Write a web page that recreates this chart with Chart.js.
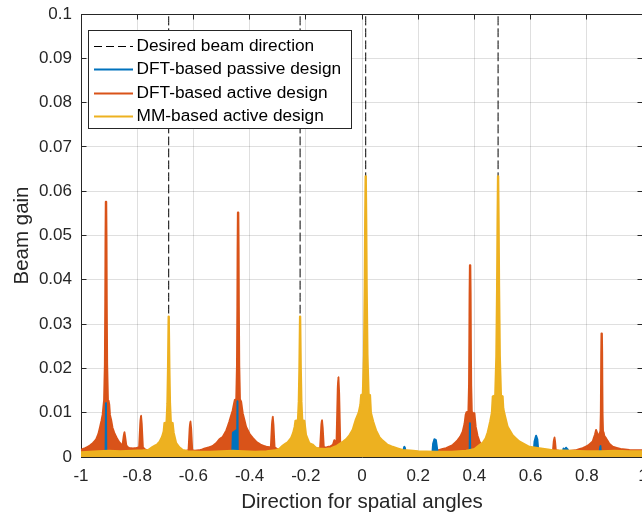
<!DOCTYPE html>
<html>
<head>
<meta charset="utf-8">
<script src="https://cdn.jsdelivr.net/npm/chart.js@4.4.3/dist/chart.umd.min.js"></script>
<style>
  html, body { margin: 0; padding: 0; background: #fff; overflow: hidden; }
  #wrap { width: 645px; height: 516px; }
</style>
</head>
<body>
<div id="wrap"><canvas id="beam" width="645" height="516"></canvas></div>
<script>
const seriesLabels = ['Desired beam direction', 'DFT-based passive design', 'DFT-based active design', 'MM-based active design'];
const xRange = [-1, 1];
const yRange = [0, 0.1];
const desiredDirections = [-0.6879, -0.2203, 0.0132, 0.4843];

// DFT-based passive design (blue)
const passiveX = [-1.000, -0.9125, -0.9112, -0.9100, -0.4620, -0.4595, -0.4480, -0.4445, -0.4432, -0.4420,
  0.1460, 0.1490, 0.1509, 0.1530, 0.1560, 0.2500, 0.2530, 0.2577, 0.2630, 0.2680, 0.2710,
  0.3830, 0.3840, 0.3852, 0.6100, 0.6140, 0.6196, 0.6240, 0.6290,
  0.7130, 0.7170, 0.7210, 0.7260, 0.7320, 0.7380, 0.8440, 0.8484, 0.8510, 1.000];
const passiveY = [0.0003, 0.0003, 0.0122, 0.0003, 0.0003, 0.0055, 0.0060, 0.0015, 0.0126, 0.0003,
  0.0003, 0.0020, 0.0023, 0.0020, 0.0003, 0.0003, 0.0030, 0.0040, 0.0038, 0.0015, 0.0003,
  0.0003, 0.0076, 0.0003, 0.0003, 0.0035, 0.0048, 0.0040, 0.0003,
  0.0003, 0.0019, 0.0016, 0.0021, 0.0017, 0.0003, 0.0003, 0.0025, 0.0003, 0.0003];

// DFT-based active design (orange)
const activeX = [-1.000, -0.985, -0.970, -0.958, -0.946, -0.938, -0.932, -0.927, -0.923, -0.9195,
  -0.9178, -0.9150, -0.9136, -0.9128, -0.9118, -0.9102, -0.9092, -0.9084, -0.9070, -0.9042, -0.902,
  -0.8995, -0.897, -0.893, -0.888, -0.881, -0.873, -0.866, -0.859, -0.854,
  -0.8521, -0.8481, -0.8456, -0.8431, -0.8391, -0.835,
  -0.828, -0.815, -0.804, -0.7930, -0.7890, -0.7865, -0.7840, -0.7800, -0.772, -0.760, -0.740, -0.720,
  -0.700, -0.680, -0.660, -0.640, -0.625, -0.6172, -0.6132, -0.6107, -0.6082, -0.6042, -0.595, -0.580,
  -0.568, -0.555, -0.543, -0.531, -0.519, -0.5075, -0.4957, -0.4826, -0.4719, -0.4650,
  -0.4601, -0.4555, -0.4525,
  -0.4474, -0.4449, -0.4435, -0.4427, -0.4417, -0.4401, -0.4391, -0.4383, -0.4369, -0.4344,
  -0.4302, -0.4270,
  -0.4246, -0.4125, -0.4010, -0.3890, -0.3740, -0.3590, -0.3410, -0.3300, -0.3243, -0.3203, -0.3178,
  -0.3153, -0.3113, -0.3030, -0.2940, -0.2700, -0.2400, -0.2100, -0.1800, -0.1600, -0.1490, -0.1450, -0.1425,
  -0.1400, -0.1360, -0.1250, -0.1120, -0.1030, -0.0982, -0.0930, -0.0905, -0.0865, -0.0840, -0.0815, -0.0775, -0.0700,
  -0.0570, -0.0300, 0.0000, 0.0500, 0.1000, 0.1500, 0.2000, 0.2500, 0.2754, 0.2993,
  0.3228, 0.3406, 0.3500, 0.3584, 0.3650, 0.3690, 0.3720,
  0.3787, 0.3809, 0.3821, 0.3829, 0.3840, 0.3854, 0.3865, 0.3873, 0.3885, 0.3907,
  0.3950, 0.4000, 0.4046, 0.4110, 0.4178, 0.4295, 0.4450, 0.4700, 0.5000,
  0.5500, 0.6000, 0.6500, 0.6780, 0.6800, 0.6825, 0.6847, 0.6869, 0.6894, 0.7000, 0.7300, 0.7600,
  0.7854, 0.8050, 0.8210, 0.8290, 0.8331, 0.8380, 0.8430, 0.8465,
  0.8484, 0.8500, 0.8508, 0.8514, 0.8523, 0.8537, 0.8546, 0.8552, 0.8560, 0.8576,
  0.8600, 0.8620, 0.8686, 0.8800, 0.8922, 0.9200, 0.9516, 1.000];
const activeY = [0.0016, 0.0020, 0.0025, 0.0031, 0.0040, 0.0052, 0.0068, 0.0082, 0.0095, 0.0118,
  0.0128, 0.0209, 0.0352, 0.0486, 0.0576, 0.0576, 0.0486, 0.0352, 0.0209, 0.0128, 0.0127,
  0.0118, 0.0095, 0.0084, 0.0066, 0.0053, 0.0043, 0.0035, 0.0030, 0.0027,
  0.0027, 0.0046, 0.0056, 0.0046, 0.0027, 0.0023,
  0.0020, 0.0019, 0.0020, 0.0022, 0.0075, 0.0093, 0.0075, 0.0022, 0.0017, 0.0014, 0.0012, 0.0011,
  0.0012, 0.0012, 0.0012, 0.0013, 0.0014, 0.0015, 0.0064, 0.0080, 0.0064, 0.0015, 0.0014, 0.0015,
  0.0017, 0.0020, 0.0022, 0.0025, 0.0031, 0.0040, 0.0045, 0.0060, 0.0080, 0.0095,
  0.0105, 0.0120, 0.0129,
  0.0130, 0.0206, 0.0341, 0.0468, 0.0552, 0.0552, 0.0468, 0.0341, 0.0206, 0.0130,
  0.0125, 0.0110,
  0.0099, 0.0068, 0.0053, 0.0043, 0.0033, 0.0027, 0.0023, 0.0022, 0.0022, 0.0073, 0.0091,
  0.0073, 0.0022, 0.0018, 0.0016, 0.0014, 0.0014, 0.0015, 0.0016, 0.0018, 0.0020, 0.0066, 0.0083,
  0.0066, 0.0021, 0.0022, 0.0024, 0.0028, 0.0038, 0.0032, 0.0033, 0.0144, 0.0180, 0.0144, 0.0030, 0.0022,
  0.0020, 0.0017, 0.0016, 0.0014, 0.0012, 0.0010, 0.0009, 0.0012, 0.0016, 0.0020,
  0.0027, 0.0038, 0.0046, 0.0057, 0.0075, 0.0095, 0.0101,
  0.0102, 0.0162, 0.0268, 0.0367, 0.0433, 0.0433, 0.0367, 0.0268, 0.0162, 0.0102,
  0.0099, 0.0099, 0.0068, 0.0048, 0.0035, 0.0023, 0.0018, 0.0016, 0.0015,
  0.0013, 0.0012, 0.0013, 0.0015, 0.0016, 0.0035, 0.0044, 0.0035, 0.0016, 0.0014, 0.0013, 0.0015,
  0.0020, 0.0026, 0.0035, 0.0050, 0.0061, 0.0052, 0.0045, 0.0055,
  0.0058, 0.0098, 0.0169, 0.0235, 0.0279, 0.0279, 0.0235, 0.0169, 0.0098, 0.0058,
  0.0055, 0.0048, 0.0042, 0.0030, 0.0023, 0.0018, 0.0016, 0.0015];

// MM-based active design (yellow)
const mmX = [-1.000, -0.970, -0.940, -0.900, -0.860, -0.820, -0.780, -0.760, -0.745, -0.730,
  -0.721, -0.712, -0.706, -0.7032,
  -0.6959, -0.6929, -0.6907, -0.6894, -0.6885, -0.6873, -0.6864, -0.6851, -0.6829, -0.6799,
  -0.6737, -0.6700, -0.6616, -0.6500, -0.6380, -0.6200, -0.5800, -0.5400, -0.5000, -0.4600, -0.4200,
  -0.3800, -0.3400, -0.3100, -0.2950, -0.2820, -0.2650, -0.2523, -0.2450, -0.2400, -0.2370,
  -0.2283, -0.2253, -0.2231, -0.2218, -0.2209, -0.2197, -0.2188, -0.2175, -0.2153, -0.2123,
  -0.2050, -0.1990, -0.1870, -0.1754, -0.1634, -0.1516,
  -0.1300, -0.1100, -0.0900, -0.0690, -0.0570, -0.0450, -0.0330, -0.0230, -0.0120, -0.0060, -0.0032,
  0.0027, 0.0067, 0.0094, 0.0110, 0.0125, 0.0139, 0.0154, 0.0170, 0.0197, 0.0237,
  0.0288, 0.0320, 0.0400, 0.0502, 0.0620, 0.0737,
  0.0900, 0.1090, 0.1450, 0.2000, 0.2600, 0.3200, 0.3700, 0.4000, 0.4178, 0.4295,
  0.4400, 0.4473, 0.4560, 0.4620, 0.4652,
  0.4738, 0.4778, 0.4805, 0.4821, 0.4836, 0.4850, 0.4865, 0.4881, 0.4908, 0.4948,
  0.5007, 0.5030, 0.5068, 0.5185, 0.5363, 0.5600, 0.5957, 0.6313, 0.6800, 0.7500, 0.8000, 0.8500,
  0.9000, 0.9500, 1.000];
const mmY = [0.0011, 0.0012, 0.0013, 0.0014, 0.0013, 0.0014, 0.0015, 0.0016, 0.0023, 0.0028,
  0.0034, 0.0045, 0.0058, 0.0077,
  0.0078, 0.0121, 0.0198, 0.0269, 0.0317, 0.0317, 0.0269, 0.0198, 0.0121, 0.0078,
  0.0077, 0.0055, 0.0032, 0.0022, 0.0016, 0.0013, 0.0012, 0.0012, 0.0013, 0.0014, 0.0013,
  0.0012, 0.0013, 0.0015, 0.0018, 0.0026, 0.0033, 0.0043, 0.0055, 0.0068, 0.0082,
  0.0083, 0.0125, 0.0200, 0.0270, 0.0317, 0.0317, 0.0270, 0.0200, 0.0125, 0.0083,
  0.0082, 0.0050, 0.0031, 0.0028, 0.0021, 0.0019,
  0.0018, 0.0020, 0.0025, 0.0034, 0.0040, 0.0049, 0.0062, 0.0083, 0.0100, 0.0118, 0.0140,
  0.0142, 0.0231, 0.0388, 0.0536, 0.0634, 0.0634, 0.0536, 0.0388, 0.0231, 0.0142,
  0.0140, 0.0100, 0.0080, 0.0060, 0.0045, 0.0037,
  0.0028, 0.0023, 0.0016, 0.0013, 0.0012, 0.0012, 0.0014, 0.0018, 0.0027, 0.0032,
  0.0042, 0.0056, 0.0080, 0.0100, 0.0137,
  0.0139, 0.0228, 0.0387, 0.0535, 0.0634, 0.0634, 0.0535, 0.0387, 0.0228, 0.0139,
  0.0137, 0.0110, 0.0098, 0.0068, 0.0049, 0.0035, 0.0023, 0.0020, 0.0015, 0.0014, 0.0013, 0.0013,
  0.0014, 0.0013, 0.0013];

const axisColor = '#262626';
const gridColor = 'rgba(38,38,38,0.15)';
const fontFamily = '"Liberation Sans", Arial, Helvetica, sans-serif';

const toPoints = (xs, ys) => xs.map((x, i) => ({ x: x, y: ys[i] }));

const directionPoints = [];
desiredDirections.forEach(d => {
  directionPoints.push({ x: d, y: yRange[0] }, { x: d, y: yRange[1] }, { x: d, y: null });
});

const trimNumber = v => String(+v.toFixed(3));

// legend box drawn inside the plot area, MATLAB style
const boxLegend = {
  id: 'boxLegend',
  afterDraw(chart) {
    const ctx = chart.ctx;
    const area = chart.chartArea;
    const left = area.left + 7;
    const top = area.top + 16;
    const rowH = 23.3;
    const datasets = chart.data.datasets;

    ctx.save();
    ctx.font = '17.3px ' + fontFamily;
    const textW = Math.max(...datasets.map(ds => ctx.measureText(ds.label).width));
    const w = Math.round(48 + textW + 10);
    const h = Math.round(rowH * datasets.length + 5);
    ctx.fillStyle = '#fff';
    ctx.fillRect(left, top, w, h);
    ctx.strokeStyle = axisColor;
    ctx.lineWidth = 1;
    ctx.strokeRect(left + 0.5, top + 0.5, w, h);

    datasets.forEach((ds, i) => {
      const y = Math.round(top + 16 + i * rowH);
      ctx.beginPath();
      ctx.setLineDash(ds.borderDash || []);
      ctx.lineWidth = ds.borderWidth;
      ctx.strokeStyle = ds.borderColor;
      ctx.moveTo(left + 6, y + 0.5);
      ctx.lineTo(left + 45, y + 0.5);
      ctx.stroke();
      ctx.setLineDash([]);
      ctx.fillStyle = '#000';
      ctx.textBaseline = 'middle';
      ctx.fillText(ds.label, left + 48.5, y + 0.5);
    });
    ctx.restore();
  }
};

// inward tick marks and the top/right edges of the box
const innerTicks = {
  id: 'innerTicks',
  beforeDatasetsDraw(chart) {
    const { ctx, chartArea: a, scales: { x, y } } = chart;
    const len = 5.5;
    ctx.save();
    ctx.strokeStyle = axisColor;
    ctx.lineWidth = 1;
    ctx.beginPath();
    ctx.moveTo(a.left, a.top + 0.5);
    ctx.lineTo(a.right, a.top + 0.5);
    ctx.moveTo(a.right - 0.5, a.top);
    ctx.lineTo(a.right - 0.5, a.bottom);
    x.ticks.forEach(t => {
      const px = Math.round(x.getPixelForValue(t.value) - 0.5) + 0.5;
      ctx.moveTo(px, a.bottom);
      ctx.lineTo(px, a.bottom - len);
      ctx.moveTo(px, a.top);
      ctx.lineTo(px, a.top + len);
    });
    y.ticks.forEach(t => {
      const py = Math.round(y.getPixelForValue(t.value) - 0.5) + 0.5;
      ctx.moveTo(a.left, py);
      ctx.lineTo(a.left + len, py);
      ctx.moveTo(a.right, py);
      ctx.lineTo(a.right - len, py);
    });
    ctx.stroke();
    ctx.restore();
  }
};

new Chart(document.getElementById('beam'), {
  type: 'line',
  data: {
    datasets: [
      {
        label: seriesLabels[0],
        data: directionPoints,
        borderColor: '#000',
        borderWidth: 1,
        borderDash: [8, 4],
        fill: false,
        order: 1
      },
      {
        label: seriesLabels[1],
        data: toPoints(passiveX, passiveY),
        borderColor: '#0072BD',
        backgroundColor: '#0072BD',
        borderWidth: 2,
        fill: 'origin',
        order: 2
      },
      {
        label: seriesLabels[2],
        data: toPoints(activeX, activeY),
        borderColor: '#D95319',
        backgroundColor: '#D95319',
        borderWidth: 2,
        fill: 'origin',
        order: 3
      },
      {
        label: seriesLabels[3],
        data: toPoints(mmX, mmY),
        borderColor: '#EDB120',
        backgroundColor: '#EDB120',
        borderWidth: 2,
        fill: 'origin',
        order: 0
      }
    ]
  },
  options: {
    responsive: false,
    animation: false,
    layout: { padding: { top: 14, right: 2, left: 0, bottom: 0 } },
    elements: {
      point: { radius: 0 },
      // a tiny tension keeps Chart.js off its per-pixel fast path, so narrow peaks keep their shape
      line: { tension: 0.0001, borderJoinStyle: 'round', borderCapStyle: 'round' }
    },
    plugins: {
      legend: { display: false },
      tooltip: { enabled: false }
    },
    scales: {
      x: {
        type: 'linear',
        min: xRange[0],
        max: xRange[1],
        ticks: {
          stepSize: 0.2,
          padding: 9,
          color: axisColor,
          font: { family: fontFamily, size: 17 },
          maxRotation: 0,
          callback: v => trimNumber(v)
        },
        grid: { color: gridColor, drawTicks: false },
        border: { color: axisColor },
        title: {
          display: true,
          text: 'Direction for spatial angles',
          color: axisColor,
          font: { family: fontFamily, size: 20.5 },
          padding: { top: 0, bottom: 1 }
        },
        afterFit(scale) {
          scale.height = 59;
          scale.paddingLeft = 0;
          scale.paddingRight = 0;
        }
      },
      y: {
        type: 'linear',
        min: yRange[0],
        max: yRange[1],
        ticks: {
          stepSize: 0.01,
          padding: 9,
          color: axisColor,
          font: { family: fontFamily, size: 17 },
          callback: v => trimNumber(v)
        },
        grid: { color: gridColor, drawTicks: false },
        border: { color: axisColor },
        title: {
          display: true,
          text: 'Beam gain',
          color: axisColor,
          font: { family: fontFamily, size: 20.5 },
          padding: { top: 10, bottom: 0 }
        },
        afterFit(scale) {
          scale.width = 81;
          scale.paddingTop = 0;
          scale.paddingBottom = 0;
        }
      }
    }
  },
  plugins: [innerTicks, boxLegend]
});
</script>
</body>
</html>
